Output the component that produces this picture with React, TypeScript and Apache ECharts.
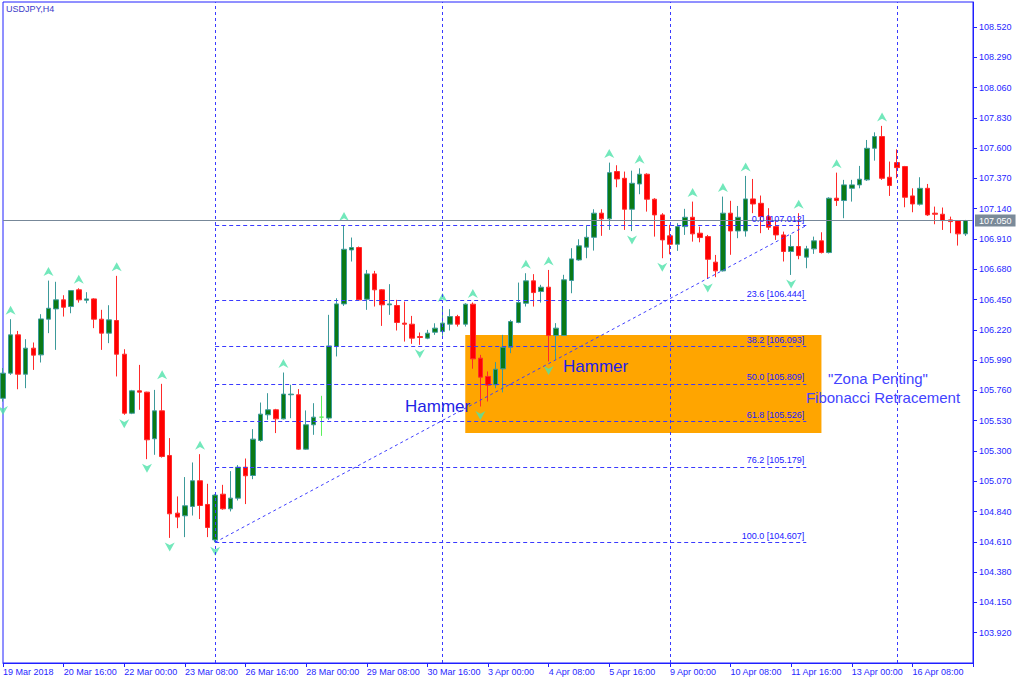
import React, { useEffect, useRef } from 'react';
import * as echarts from 'echarts';

const tickLabels = ['19 Mar 2018', '20 Mar 16:00', '22 Mar 00:00', '23 Mar 08:00', '26 Mar 16:00', '28 Mar 00:00', '29 Mar 08:00', '30 Mar 16:00', '3 Apr 00:00', '4 Apr 08:00', '5 Apr 16:00', '9 Apr 00:00', '10 Apr 08:00', '11 Apr 16:00', '13 Apr 00:00', '16 Apr 08:00'];

const opens = [105.700, 105.891, 106.182, 105.883, 106.081, 106.030, 106.301, 106.379, 106.448, 106.397, 106.524, 106.445, 106.455, 106.301, 106.195, 106.291, 106.035, 105.587, 105.757, 105.747, 105.393, 105.605, 105.266, 104.828, 104.808, 104.879, 105.074, 104.894, 104.625, 104.972, 104.861, 104.942, 105.177, 105.114, 105.380, 105.575, 105.613, 105.544, 105.727, 105.727, 105.314, 105.499, 105.557, 105.550, 106.093, 106.417, 106.827, 106.845, 106.453, 106.645, 106.524, 106.410, 106.405, 106.271, 106.263, 106.169, 106.157, 106.202, 106.207, 106.263, 106.321, 106.263, 106.415, 106.005, 105.866, 105.803, 105.924, 106.088, 106.276, 106.422, 106.592, 106.511, 106.544, 106.177, 106.177, 106.595, 106.751, 106.848, 106.923, 107.106, 107.063, 107.422, 107.371, 107.136, 107.328, 107.402, 107.212, 107.093, 106.934, 106.870, 107.004, 107.075, 106.954, 106.928, 106.734, 106.668, 107.106, 106.971, 106.971, 107.214, 107.181, 107.080, 107.004, 106.941, 106.815, 106.853, 106.772, 106.835, 106.896, 106.807, 107.220, 107.202, 107.295, 107.321, 107.359, 107.599, 107.688, 107.379, 107.490, 107.460, 107.237, 107.174, 107.295, 107.106, 107.098, 107.055, 107.050, 106.949];

const highs = [105.930, 106.301, 106.212, 106.149, 106.124, 106.339, 106.594, 106.585, 106.483, 106.518, 106.536, 106.506, 106.460, 106.372, 106.407, 106.630, 106.073, 105.764, 105.954, 105.750, 105.764, 105.810, 105.398, 104.955, 105.102, 105.213, 105.276, 105.051, 104.972, 105.043, 105.147, 105.193, 105.243, 105.466, 105.668, 105.739, 105.620, 105.896, 105.803, 105.770, 105.608, 105.663, 105.719, 106.334, 106.460, 107.012, 106.921, 106.853, 106.675, 106.668, 106.529, 106.567, 106.448, 106.435, 106.326, 106.200, 106.220, 106.270, 106.397, 106.377, 106.334, 106.422, 106.428, 106.030, 105.904, 105.975, 106.182, 106.296, 106.579, 106.650, 106.643, 106.562, 106.675, 106.271, 106.638, 106.840, 106.908, 107.009, 107.136, 107.136, 107.490, 107.470, 107.422, 107.429, 107.447, 107.409, 107.220, 107.106, 107.017, 107.030, 107.139, 107.194, 107.004, 106.941, 106.789, 107.232, 107.200, 107.161, 107.389, 107.366, 107.240, 107.144, 107.055, 106.966, 106.941, 107.106, 106.858, 106.928, 106.961, 107.227, 107.414, 107.359, 107.359, 107.465, 107.662, 107.720, 107.769, 107.498, 107.591, 107.465, 107.295, 107.379, 107.328, 107.156, 107.149, 107.080, 107.050, 107.055];

const lows = [105.675, 105.878, 105.769, 105.777, 105.916, 105.972, 106.195, 106.068, 106.321, 106.346, 106.427, 106.422, 106.233, 106.068, 106.119, 105.866, 105.575, 105.580, 105.613, 105.238, 105.271, 105.250, 104.640, 104.714, 104.646, 104.810, 104.783, 104.646, 104.607, 104.854, 104.841, 104.924, 104.897, 105.086, 105.370, 105.537, 105.436, 105.540, 105.549, 105.309, 105.309, 105.423, 105.415, 105.537, 106.018, 106.402, 106.739, 106.440, 106.372, 106.397, 106.250, 106.334, 106.215, 106.131, 106.114, 106.106, 106.149, 106.182, 106.175, 106.215, 106.245, 106.245, 105.925, 105.638, 105.676, 105.777, 105.745, 106.043, 106.270, 106.397, 106.397, 106.427, 105.980, 105.992, 106.177, 106.498, 106.745, 106.764, 106.822, 106.934, 106.979, 107.303, 106.979, 106.970, 107.250, 107.118, 106.928, 106.764, 106.794, 106.820, 106.941, 106.890, 106.885, 106.607, 106.620, 106.663, 106.790, 106.916, 106.928, 107.106, 106.954, 106.979, 106.903, 106.739, 106.637, 106.756, 106.688, 106.797, 106.800, 106.800, 107.161, 107.068, 107.194, 107.295, 107.351, 107.505, 107.359, 107.237, 107.371, 107.151, 107.113, 107.164, 107.085, 107.022, 106.979, 106.954, 106.860, 106.933];

const closes = [105.891, 106.182, 105.883, 106.081, 106.028, 106.303, 106.384, 106.448, 106.392, 106.518, 106.448, 106.455, 106.301, 106.195, 106.296, 106.035, 105.587, 105.757, 105.747, 105.385, 105.605, 105.258, 104.823, 104.798, 104.884, 105.074, 104.886, 104.719, 104.965, 104.861, 104.942, 105.177, 105.112, 105.390, 105.580, 105.613, 105.544, 105.732, 105.732, 105.314, 105.499, 105.557, 105.557, 106.098, 106.417, 106.832, 106.845, 106.448, 106.645, 106.524, 106.410, 106.417, 106.276, 106.263, 106.157, 106.162, 106.195, 106.233, 106.271, 106.321, 106.263, 106.415, 106.000, 105.861, 105.800, 105.921, 106.088, 106.283, 106.427, 106.592, 106.503, 106.544, 106.177, 106.233, 106.600, 106.759, 106.858, 106.923, 107.106, 107.063, 107.414, 107.366, 107.136, 107.333, 107.402, 107.212, 107.093, 106.903, 106.870, 107.004, 107.075, 106.949, 106.921, 106.756, 106.668, 107.106, 106.971, 107.075, 107.214, 107.176, 107.080, 106.999, 106.941, 106.815, 106.853, 106.784, 106.835, 106.896, 106.807, 107.220, 107.202, 107.321, 107.321, 107.364, 107.599, 107.688, 107.371, 107.316, 107.452, 107.227, 107.176, 107.295, 107.093, 107.098, 107.050, 107.042, 106.949, 107.050];

const fractalUp = [1, 6, 10, 15, 21, 26, 37, 45, 58, 62, 69, 72, 80, 84, 91, 95, 98, 105, 110, 116];
const fractalDown = [0, 16, 19, 22, 28, 55, 63, 72, 83, 87, 93, 104];
const dojiBars = [42];

const fibPct = [0, 23.6, 38.2, 50.0, 61.8, 76.2, 100.0];
const fibPrice = [107.012, 106.444, 106.093, 105.809, 105.526, 105.179, 104.607];
const fibStartBar = 28;
const fibEndBar = 106;

const separatorBars = [28, 58, 88, 118];
const zoneBars = [61, 108];
const zonePrices = [106.18, 105.436];
const bidPrice = 107.05;

const slotCount = 129;
const categories = Array.from({ length: slotCount }, (_, i) => String(i));

const BLUE = '#1f1fff';
const LINE_BLUE = '#3a3aff';
const FONT = '"Liberation Sans", Arial, sans-serif';

export default function App() {
  const ref = useRef<HTMLDivElement>(null);

  useEffect(() => {
    if (!ref.current) return;
    const chart = echarts.init(ref.current, null, { renderer: 'svg' });

    const candleData = opens.map((o, i) => {
      const value = [o, closes[i], lows[i], highs[i]];
      if (dojiBars.includes(i)) {
        return {
          value,
          itemStyle: {
            color: '#5cf05c', color0: '#5cf05c',
            borderColor: '#5cf05c', borderColor0: '#5cf05c', borderColorDoji: '#5cf05c',
          },
        };
      }
      return value;
    });

    const fibLines = fibPct.map((pct, k) => [
      {
        coord: [categories[fibStartBar], fibPrice[k]],
        lineStyle: { color: LINE_BLUE, type: [4, 3], width: 1 },
        label: {
          show: true,
          position: 'insideEndTop',
          distance: 2,
          formatter: `${pct.toFixed(1)} [${fibPrice[k].toFixed(3)}]`,
          color: '#2020ff',
          fontSize: 9,
          fontFamily: FONT,
        },
      },
      { coord: [categories[fibEndBar], fibPrice[k]] },
    ]);

    const sepLines = separatorBars.map((b) => ({
      xAxis: categories[b],
      lineStyle: { color: LINE_BLUE, type: [3, 3], width: 1 },
      label: { show: false },
    }));

    const option: any = {
      animation: false,
      backgroundColor: '#ffffff',
      grid: {
        left: 3, right: 51, top: 2, bottom: 20,
        show: true, borderColor: '#2020ff', borderWidth: 1, backgroundColor: '#ffffff',
      },
      xAxis: {
        type: 'category',
        data: categories,
        boundaryGap: false,
        axisLine: { lineStyle: { color: '#2020ff', width: 1 } },
        axisTick: { show: true, interval: 7, length: 4, lineStyle: { color: '#2020ff' } },
        axisLabel: {
          interval: 7,
          align: 'left',
          margin: 4,
          color: BLUE,
          fontSize: 9,
          fontFamily: FONT,
          formatter: (_v: string, idx: number) => (idx % 8 === 0 && tickLabels[idx / 8]) ? tickLabels[idx / 8] : '',
        },
        splitLine: { show: false },
      },
      yAxis: {
        type: 'value',
        position: 'right',
        min: 103.69,
        max: 108.7098,
        interval: 0.23,
        axisLine: { show: true, lineStyle: { color: '#2020ff', width: 1 } },
        axisTick: { show: true, length: 4, lineStyle: { color: '#2020ff' } },
        axisLabel: {
          showMinLabel: false,
          showMaxLabel: false,
          margin: 6,
          color: BLUE,
          fontSize: 9,
          fontFamily: FONT,
          formatter: (v: number) => v.toFixed(3),
        },
        splitLine: { show: false },
      },
      series: [
        {
          type: 'candlestick',
          data: candleData,
          barWidth: 5,
          z: 2,
          itemStyle: {
            color: '#0a7a16',
            color0: '#ff0000',
            borderColor: '#3c9a9a',
            borderColor0: '#ff2a2a',
            borderColorDoji: '#5cf05c',
            borderWidth: 1,
          },
          markArea: {
            silent: true,
            z: 1,
            itemStyle: { color: '#ffa500' },
            data: [[
              { coord: [categories[zoneBars[0]], zonePrices[0]] },
              { coord: [categories[zoneBars[1]], zonePrices[1]] },
            ]],
          },
          markLine: {
            silent: true,
            symbol: ['none', 'none'],
            label: { show: false },
            z: 5,
            data: [
              ...sepLines,
              {
                yAxis: bidPrice,
                lineStyle: { color: '#778899', type: 'solid', width: 1 },
                label: {
                  show: true,
                  position: 'end',
                  distance: 2,
                  formatter: bidPrice.toFixed(3),
                  backgroundColor: '#7a8a99',
                  color: '#ffffff',
                  padding: [2, 4, 1, 4],
                  fontSize: 9,
                  fontFamily: FONT,
                },
              },
              [
                {
                  coord: [categories[fibStartBar], fibPrice[fibPrice.length - 1]],
                  lineStyle: { color: '#4040ff', type: [3, 3], width: 1 },
                  label: { show: false },
                },
                { coord: [categories[fibEndBar], fibPrice[0]] },
              ],
              ...fibLines,
            ],
          },
        },
        {
          type: 'scatter',
          z: 4,
          symbol: 'path://M5,0L10,10L5,7L0,10Z',
          symbolSize: [10, 9],
          symbolOffset: [0, -9],
          itemStyle: { color: '#4fe2aa' },
          data: fractalUp.map((i) => [categories[i], highs[i]]),
        },
        {
          type: 'scatter',
          z: 4,
          symbol: 'path://M0,0L5,3L10,0L5,10Z',
          symbolSize: [10, 9],
          symbolOffset: [0, 9],
          itemStyle: { color: '#4fe2aa' },
          data: fractalDown.map((i) => [categories[i], lows[i]]),
        },
      ],
      graphic: [
        { type: 'text', left: 6, top: 4, z: 10, style: { text: 'USDJPY,H4', fill: '#3a3ac8', fontSize: 9, fontFamily: FONT } },
        { type: 'text', x: 405, y: 406, z: 10, style: { text: 'Hammer', fill: '#1f1fe6', fontSize: 17, fontFamily: FONT, verticalAlign: 'middle' } },
        { type: 'text', x: 563, y: 366, z: 10, style: { text: 'Hammer', fill: '#1f1fe6', fontSize: 17, fontFamily: FONT, verticalAlign: 'middle' } },
        { type: 'text', x: 878, y: 378, z: 10, style: { text: '"Zona Penting"', fill: '#4343ff', fontSize: 15, fontFamily: FONT, align: 'center', verticalAlign: 'middle' } },
        { type: 'text', x: 883, y: 397, z: 10, style: { text: 'Fibonacci Retracement', fill: '#4343ff', fontSize: 15, fontFamily: FONT, align: 'center', verticalAlign: 'middle' } },
      ],
    };

    chart.setOption(option);
    return () => chart.dispose();
  }, []);

  return <div ref={ref} style={{ position: 'fixed', left: 0, top: 0, width: 1024, height: 683 }} />;
}
